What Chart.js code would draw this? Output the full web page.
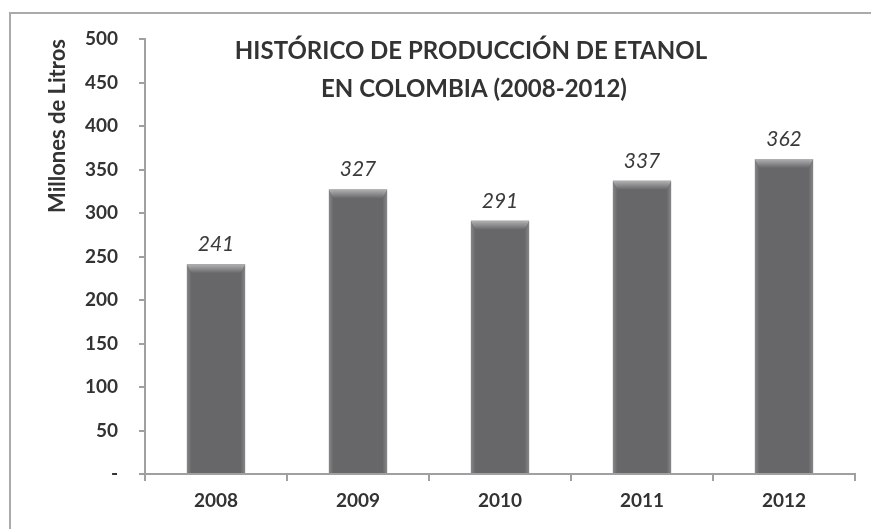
<!DOCTYPE html>
<html>
<head>
<meta charset="utf-8">
<script src="https://cdn.jsdelivr.net/npm/chart.js@4.4.1/dist/chart.umd.min.js"></script>
<style>
html,body{margin:0;padding:0;background:#fff;}
#wrap{width:871px;height:529px;position:relative;}
</style>
</head>
<body>
<div id="wrap"><canvas id="c" width="871" height="529"></canvas></div>
<script>
const categories = ["2008", "2009", "2010", "2011", "2012"];
const production = [241, 327, 291, 337, 362];
const yTickValues = [0, 50, 100, 150, 200, 250, 300, 350, 400, 450, 500];
const titleLines = ["HISTÓRICO DE PRODUCCIÓN DE ETANOL", "EN COLOMBIA (2008-2012)"];
const yAxisTitle = "Millones de Litros";

const FONT = "Lato";

const frame = {
  id: 'frame',
  beforeDraw(chart) {
    const ctx = chart.ctx;
    ctx.save();
    ctx.fillStyle = '#fff';
    ctx.fillRect(0, 0, chart.width, chart.height);
    ctx.strokeStyle = '#aaaaaa';
    ctx.lineWidth = 2;
    ctx.beginPath();
    ctx.moveTo(10, chart.height);
    ctx.lineTo(10, 13);
    ctx.lineTo(chart.width, 13);
    ctx.stroke();
    ctx.restore();
  }
};

const bevel = {
  id: 'bevel',
  afterDatasetsDraw(chart) {
    const ctx = chart.ctx;
    const meta = chart.getDatasetMeta(0);
    ctx.save();
    meta.data.forEach((bar) => {
      const w = bar.width, x0 = bar.x - w / 2, y0 = bar.y, h = bar.base - bar.y;
      let g = ctx.createLinearGradient(x0, 0, x0 + w, 0);
      g.addColorStop(0, 'rgba(160,160,162,0.55)');
      g.addColorStop(0.08, 'rgba(160,160,162,0.0)');
      g.addColorStop(0.92, 'rgba(160,160,162,0.0)');
      g.addColorStop(1, 'rgba(160,160,162,0.55)');
      ctx.fillStyle = g;
      ctx.fillRect(x0, y0, w, h);
      g = ctx.createLinearGradient(0, y0, 0, y0 + 9);
      g.addColorStop(0, 'rgba(185,185,187,0.9)');
      g.addColorStop(1, 'rgba(185,185,187,0.0)');
      ctx.fillStyle = g;
      ctx.beginPath();
      ctx.moveTo(x0, y0);
      ctx.lineTo(x0 + w, y0);
      ctx.lineTo(x0 + w - 5, y0 + 9);
      ctx.lineTo(x0 + 5, y0 + 9);
      ctx.closePath();
      ctx.fill();
    });
    ctx.restore();
  }
};

const labels = {
  id: 'labels',
  afterDatasetsDraw(chart) {
    const ctx = chart.ctx;
    const meta = chart.getDatasetMeta(0);
    const data = chart.data.datasets[0].data;
    ctx.save();
    ctx.fillStyle = '#3a3a3a';
    ctx.font = 'italic 21px ' + FONT;
    ctx.textAlign = 'center';
    ctx.textBaseline = 'middle';
    meta.data.forEach((bar, i) => {
      ctx.fillText(String(data[i]), bar.x, bar.y - 20);
    });
    ctx.restore();
  }
};

const innerTitle = {
  id: 'innerTitle',
  afterDraw(chart) {
    const ctx = chart.ctx;
    ctx.save();
    ctx.fillStyle = '#333333';
    ctx.font = 'bold 24px ' + FONT;
    ctx.textAlign = 'center';
    ctx.textBaseline = 'middle';
    ctx.fillText(titleLines[0], 471, 51);
    ctx.fillText(titleLines[1], 474, 89);
    ctx.restore();
  }
};

new Chart(document.getElementById('c'), {
  type: 'bar',
  data: {
    labels: categories,
    datasets: [{
      data: production,
      backgroundColor: '#67676a',
      borderWidth: 0,
      categoryPercentage: 1,
      barPercentage: 0.41
    }]
  },
  options: {
    responsive: false,
    animation: false,
    layout: { padding: { left: 0, right: 16, top: 39, bottom: 0 } },
    plugins: { legend: { display: false }, tooltip: { enabled: false }, title: { display: false } },
    scales: {
      x: {
        afterFit(s) { s.height = 55; },
        grid: { display: true, drawOnChartArea: false, offset: true, tickLength: 7, color: '#a0a0a0', lineWidth: 2 },
        border: { color: '#a0a0a0', width: 2 },
        ticks: { color: '#333333', font: { family: FONT, size: 19, weight: 'bold' }, padding: 8 }
      },
      y: {
        min: 0, max: 500,
        afterFit(s) { s.width = 145; },
        afterBuildTicks(s) { s.ticks = yTickValues.map(v => ({ value: v })); },
        grid: { display: true, drawOnChartArea: false, tickLength: 6, color: '#a0a0a0', lineWidth: 2 },
        border: { color: '#a0a0a0', width: 2 },
        ticks: {
          color: '#333333',
          font: { family: FONT, size: 19, weight: 'bold' },
          padding: 21,
          callback: (v) => v === 0 ? '-' : String(v)
        },
        title: {
          display: true, text: yAxisTitle, align: 'end', color: '#333333',
          font: { family: FONT, size: 22, weight: 'bold' }, padding: { top: 45, bottom: 0 }
        }
      }
    }
  },
  plugins: [frame, bevel, labels, innerTitle]
});
</script>
</body>
</html>
